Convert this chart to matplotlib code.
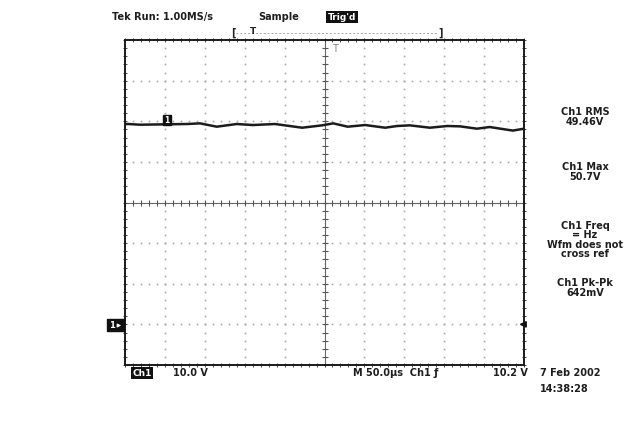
import numpy as np
import matplotlib
matplotlib.use("Agg")
import matplotlib.pyplot as plt
from matplotlib.patches import Rectangle

# Channel 1 trace: time (µs) and level (V)
time_us = [0, 4, 19, 78, 94, 115, 140, 160, 188, 222, 247, 261, 279, 301,
           326, 341, 357, 382, 404, 420, 441, 457, 486, 500]
volts = [49.3, 49.32, 49.15, 49.32, 49.48, 48.66, 49.32, 49.07, 49.32, 48.41,
         48.99, 49.48, 48.66, 49.07, 48.41, 48.83, 48.99, 48.41, 48.83, 48.74,
         48.17, 48.58, 47.7, 48.17]

time_per_div = 50.0      # µs/div
volts_per_div = 10.0     # V/div
n_hdiv, n_vdiv = 10, 8
ground = 0.0
y_low, y_high = -10.0, 70.0

measurements = [("Ch1 RMS\n49.46V", 117),
                ("Ch1 Max\n50.7V", 172),
                ("Ch1 Freq\n= Hz\nWfm does not\ncross ref", 240),
                ("Ch1 Pk-Pk\n642mV", 288)]

W, H = 637, 430
fig = plt.figure(figsize=(W / 100, H / 100), dpi=100)
fig.patch.set_facecolor("white")

def fx(px):
    return px / W

def fy(py):
    return 1 - py / H

ax = fig.add_axes([fx(125), fy(365), 399 / W, 325 / H])
ax.set_xlim(0, time_per_div * n_hdiv)
ax.set_ylim(y_low, y_high)
ax.set_xticks([])
ax.set_yticks([])
for s in ax.spines.values():
    s.set_color("#1a1a1a")
    s.set_linewidth(1.4)

grid_col = "#a8a8a8"
x_lines = np.arange(1, n_hdiv) * time_per_div
y_lines = y_low + np.arange(1, n_vdiv) * volts_per_div
x_fine = np.arange(0, n_hdiv * 5 + 1) * time_per_div / 5
y_fine = y_low + np.arange(0, n_vdiv * 5 + 1) * volts_per_div / 5
x_mid = time_per_div * n_hdiv / 2
y_mid = (y_low + y_high) / 2

# dotted graticule
for xv in x_lines:
    if xv == x_mid:
        continue
    ax.plot(np.full_like(y_fine, xv), y_fine, ls="none", marker="s",
            ms=1.2, mec="none", mfc=grid_col)
for yv in y_lines:
    if yv == y_mid:
        continue
    ax.plot(x_fine, np.full_like(x_fine, yv), ls="none", marker="s",
            ms=1.2, mec="none", mfc=grid_col)

# centre crosshair with minor ticks
ax.axvline(x_mid, color="#666666", lw=0.8)
ax.axhline(y_mid, color="#666666", lw=0.8)
ax.plot(np.full_like(y_fine, x_mid), y_fine, ls="none", marker="_",
        ms=4, mew=0.8, color="#555555")
ax.plot(x_fine, np.full_like(x_fine, y_mid), ls="none", marker="|",
        ms=4, mew=0.8, color="#555555")

# minor ticks on the frame
tick_kw = dict(ls="none", ms=3.5, mew=0.7, color="#444444", clip_on=False)
ax.plot(x_fine, np.full_like(x_fine, y_low), marker="|", **tick_kw)
ax.plot(x_fine, np.full_like(x_fine, y_high), marker="|", **tick_kw)
ax.plot(np.full_like(y_fine, 0), y_fine, marker="_", **tick_kw)
ax.plot(np.full_like(y_fine, x_mid * 2), y_fine, marker="_", **tick_kw)

# waveform
ax.plot(time_us, volts, color="#1c1c1c", lw=1.8, solid_joinstyle="round")

# channel tag on the trace
ax.add_patch(Rectangle((47, volts[2] - 0.1), 11, 2.5, color="#111111", zorder=5))
ax.text(52.5, volts[2] + 1.15, "1", color="white", fontsize=5.5,
        fontweight="bold", ha="center", va="center", zorder=6)

# trigger level arrow on the right edge
ax.annotate("", xy=(x_mid * 2 - 6, ground), xytext=(x_mid * 2 + 1, ground),
            arrowprops=dict(arrowstyle="-|>", color="#111111", lw=1.2,
                            mutation_scale=9, shrinkA=0, shrinkB=0),
            annotation_clip=False, zorder=6)

# ground marker at the left
gax = fig.add_axes([0, 0, 1, 1], facecolor="none")
gax.set_xlim(0, W)
gax.set_ylim(H, 0)
gax.axis("off")
gax.add_patch(Rectangle((107, 319), 17, 12, color="#111111"))
gax.text(112, 325.5, "1", color="white", fontsize=6, fontweight="bold",
         ha="center", va="center")
gax.annotate("", xy=(124, 325.5), xytext=(115, 325.5),
             arrowprops=dict(arrowstyle="-|>", color="white", lw=0.8,
                             mutation_scale=5))

# trigger position bracket above the screen
gax.plot([236, 438], [33, 33], color="#aaaaaa", lw=0.7, ls=(0, (2, 2)))
gax.text(233, 33, "[", fontsize=7, fontweight="bold", ha="center",
         va="center", color="#222222")
gax.text(441, 33, "]", fontsize=7, fontweight="bold", ha="center",
         va="center", color="#222222")
gax.text(253, 32, "T", fontsize=6.5, fontweight="bold", ha="center",
         va="center", color="#222222")
gax.text(335, 49, "T", fontsize=7, ha="center", va="center", color="#888888")

font = dict(fontsize=7, fontweight="bold", color="#1e1e1e",
            family="DejaVu Sans")

# header
gax.text(112, 17, "Tek Run: 1.00MS/s", ha="left", va="center", **font)
gax.text(258, 17, "Sample", ha="left", va="center", **font)
gax.text(342, 17, "Trig'd", ha="center", va="center", fontsize=6.5,
         fontweight="bold", color="white",
         bbox=dict(boxstyle="square,pad=0.15", fc="#111111", ec="none"))

# measurement readouts
for label, ypx in measurements:
    gax.text(585, ypx, label, ha="center", va="center", linespacing=0.95,
             **font)

# footer
gax.text(142, 373, "Ch1", ha="center", va="center", fontsize=6.5,
         fontweight="bold", color="white",
         bbox=dict(boxstyle="square,pad=0.15", fc="#111111", ec="none"))
gax.text(173, 373, "10.0 V", ha="left", va="center", **font)
gax.text(353, 373, "M 50.0\u00b5s  Ch1 \u0192", ha="left", va="center", **font)
gax.text(493, 373, "10.2 V", ha="left", va="center", **font)
gax.text(540, 373, "7 Feb 2002", ha="left", va="center", **font)
gax.text(540, 389, "14:38:28", ha="left", va="center", **font)

fig.savefig("out.png", dpi=100, facecolor="white")
